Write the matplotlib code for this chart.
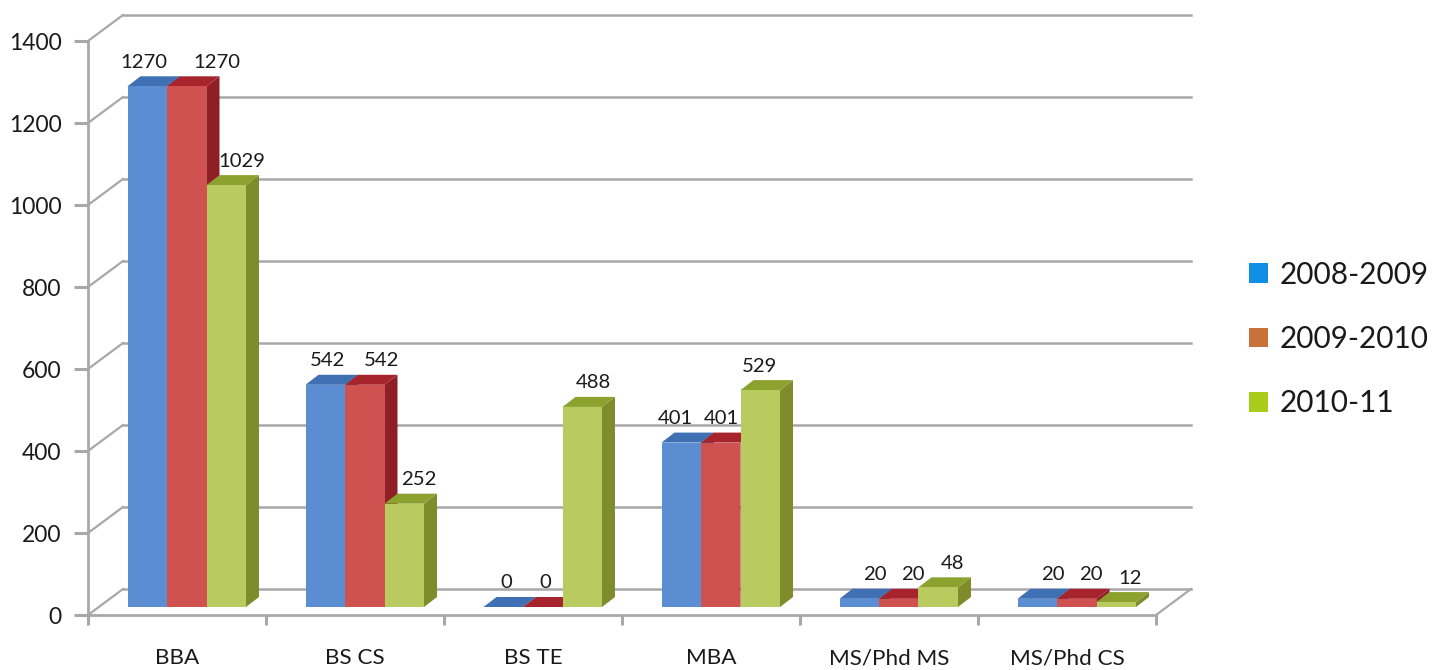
import matplotlib
matplotlib.use("Agg")
import matplotlib.pyplot as plt
from matplotlib.patches import Patch, Polygon

plt.rcParams['font.family'] = ['Lato', 'DejaVu Sans']

programs = ['BBA', 'BS CS', 'BS TE', 'MBA', 'MS/Phd MS', 'MS/Phd CS']
years = ['2008-2009', '2009-2010', '2010-11']
v2008 = [1270, 542, 0, 401, 20, 20]
v2009 = [1270, 542, 0, 401, 20, 20]
v2010 = [1029, 252, 488, 529, 48, 12]
yticks = [0, 200, 400, 600, 800, 1000, 1200, 1400]

front = ['#5b8dd3', '#cf5250', '#b9cb5e']
side = ['#34598f', '#8e1f26', '#7e8c2b']
top = ['#3f70b3', '#a8242c', '#8da12f']
legend_cols = ['#0f8fe6', '#c8713a', '#a9cc1c']
line_col = '#a8a8a8'

# label nudges in pixels, per series per group
label_dx = [[-3, 2, 3, -6, 16, 16],
            [30, 17, 3, 1, 14, 14],
            [16, 14, 11, -1, 14, 14]]

W, H = 1442, 670
fig = plt.figure(figsize=(W / 100, H / 100), dpi=100)
ax = fig.add_axes([88 / W, (H - 615) / H, 1068 / W, 574 / H])
ax.set_xlim(0, 6)
ax.set_ylim(0, 1400)

px = 6 / 1068      # one pixel in x data units
py = 1400 / 574    # one pixel in y data units

# back wall and side wall lines
wall_x, wall_y = 35 * px, 26 * py
for t in yticks:
    ax.plot([0, wall_x], [t, t + wall_y], color=line_col, lw=1.6, clip_on=False, zorder=1)
    ax.plot([wall_x, 6 + wall_x], [t + wall_y, t + wall_y], color=line_col, lw=1.8,
            clip_on=False, zorder=1)
ax.plot([6, 6 + wall_x], [0, wall_y], color=line_col, lw=1.6, clip_on=False, zorder=1)

# fake 3d columns
bar_w = 39.5 * px
left = 39.5 * px
base = 8 * py
dx, dy = 13 * px, 10 * py
series = [v2008, v2009, v2010]
for g in range(len(programs)):
    for k, vals in enumerate(series):
        v = vals[g]
        x0 = g + left + k * bar_w
        x1 = x0 + bar_w
        yb, yt = base, base + v
        z = 3 + g + k * 0.1
        ax.add_patch(Polygon([(x1, yb), (x1 + dx, yb + dy), (x1 + dx, yt + dy), (x1, yt)],
                             facecolor=side[k], edgecolor='none', clip_on=False, zorder=z))
        ax.add_patch(Polygon([(x0, yt), (x0 + dx, yt + dy), (x1 + dx, yt + dy), (x1, yt)],
                             facecolor=top[k], edgecolor='none', clip_on=False, zorder=z))
        ax.bar(x0, v, bar_w, bottom=base, align='edge', color=front[k], clip_on=False, zorder=z + 0.01)
        ax.annotate(str(v), (x0 + bar_w / 2, yt), xytext=(label_dx[k][g], 24),
                    textcoords='offset pixels', ha='center', va='center',
                    fontsize=14.6, color='#1a1a1a', zorder=20, annotation_clip=False)

for s in ['top', 'right']:
    ax.spines[s].set_visible(False)
for s in ['left', 'bottom']:
    ax.spines[s].set_color(line_col)
    ax.spines[s].set_linewidth(2)

ax.set_yticks(yticks)
ax.set_xticks(range(7))
ax.set_xticklabels([])
ax.set_xticks([i + 0.5 for i in range(6)], minor=True)
ax.set_xticklabels(programs, minor=True, fontsize=16.2, color='#1a1a1a')
ax.tick_params(axis='y', length=10, width=2.2, color=line_col, labelsize=16.5, pad=9, labelcolor='#1a1a1a')
ax.tick_params(axis='x', which='major', length=7.5, width=2.2, color=line_col)
ax.tick_params(axis='x', which='minor', length=0, pad=24)

handles = [Patch(facecolor=c, edgecolor='none') for c in legend_cols]
fig.legend(handles, years, loc='center left', bbox_to_anchor=(1222 / W, (H - 339) / H),
           frameon=False, fontsize=21.4, handlelength=0.65, handleheight=0.65,
           handletextpad=0.38, labelspacing=1.22, labelcolor='#1a1a1a')

fig.savefig('out.png', dpi=100)
